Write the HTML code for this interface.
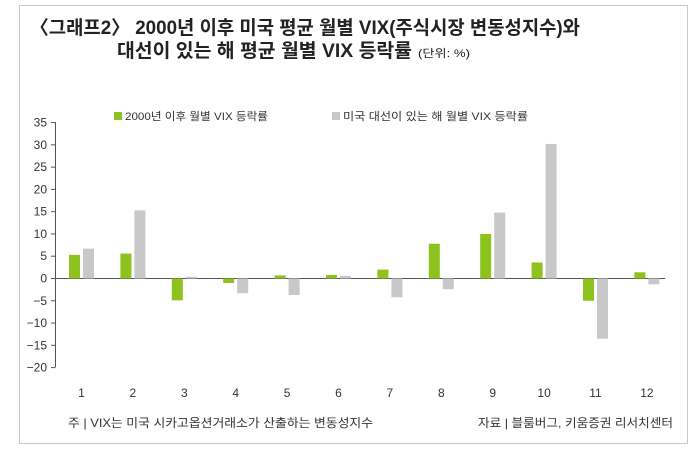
<!DOCTYPE html>
<html><head><meta charset="utf-8"><style>
body{margin:0;background:#fff;}
svg text{font-family:"Liberation Sans","Noto Sans CJK KR",sans-serif;}
</style></head><body>
<svg width="700" height="450" xmlns="http://www.w3.org/2000/svg">
<rect x="19.5" y="5.5" width="668" height="438" fill="#fff" stroke="#c8c8c8" stroke-width="1"/>
<text x="30" y="34" font-size="19" font-weight="bold" fill="#222" textLength="550" lengthAdjust="spacingAndGlyphs">〈그래프2〉 2000년 이후 미국 평균 월별 VIX(주식시장 변동성지수)와</text>
<text x="117" y="57" font-size="19" font-weight="bold" fill="#222" textLength="295" lengthAdjust="spacingAndGlyphs">대선이 있는 해 평균 월별 VIX 등락률</text>
<text x="418" y="57" font-size="11" fill="#222" textLength="52" lengthAdjust="spacingAndGlyphs">(단위: %)</text>
<rect x="114" y="112" width="8" height="8" fill="#8dc21f"/>
<text x="125" y="120" font-size="11" fill="#333" textLength="143" lengthAdjust="spacingAndGlyphs">2000년 이후 월별 VIX 등락률</text>
<rect x="332" y="112" width="8" height="8" fill="#c8c8c8"/>
<text x="343" y="120" font-size="11" fill="#333" textLength="185" lengthAdjust="spacingAndGlyphs">미국 대선이 있는 해 월별 VIX 등락률</text>
<g id="axis" stroke="#555" stroke-width="1">
<line x1="55.5" y1="122" x2="55.5" y2="367"/>
<line x1="55.5" y1="278.5" x2="665" y2="278.5"/>
</g>
<g id="ticks"></g>
<g id="bars"></g>
<g id="lab" font-size="12" fill="#333"></g>
<text x="68" y="427" font-size="12" fill="#333" textLength="305" lengthAdjust="spacingAndGlyphs">주 | VIX는 미국 시카고옵션거래소가 산출하는 변동성지수</text>
<text x="478" y="427" font-size="12" fill="#333" textLength="195" lengthAdjust="spacingAndGlyphs">자료 | 블룸버그, 키움증권 리서치센터</text>
<script>
var ns="http://www.w3.org/2000/svg",svg=document.querySelector('svg');
function el(t,a,p,txt){var e=document.createElementNS(ns,t);for(var k in a)e.setAttribute(k,a[k]);if(txt!=null)e.textContent=txt;(p||svg).appendChild(e);return e;}
var u=4.455,z=278.5;
var tk=document.getElementById('ticks'),lab=document.getElementById('lab');
for(var v=35;v>=-20;v-=5){var y=z-v*u;el('line',{x1:51,x2:55.5,y1:y,y2:y,stroke:'#555'},tk);
el('text',{x:47,y:y+4,'text-anchor':'end','font-size':12,fill:'#333'},lab,v<0?'\u2212'+(-v):''+v);}
var g=[5.3,5.6,-4.9,-1,0.7,0.8,2,7.8,10,3.6,-5,1.4],h=[6.7,15.3,0.4,-3.3,-3.7,0.6,-4.2,-2.4,14.8,30.2,-13.5,-1.3];
var b=document.getElementById('bars');
for(var i=0;i<12;i++){var c=81.5+51.4*i;
function bar(x,val,col){var y=val>=0?z-val*u:z;el('rect',{x:x,y:y,width:11,height:Math.abs(val)*u,fill:col},b);}
bar(c-12.5,g[i],'#8dc21f');bar(c+1.5,h[i],'#c8c8c8');
el('text',{x:c,y:397,'text-anchor':'middle','font-size':12,fill:'#333'},lab,''+(i+1));}
</script>
</svg>
</body></html>
